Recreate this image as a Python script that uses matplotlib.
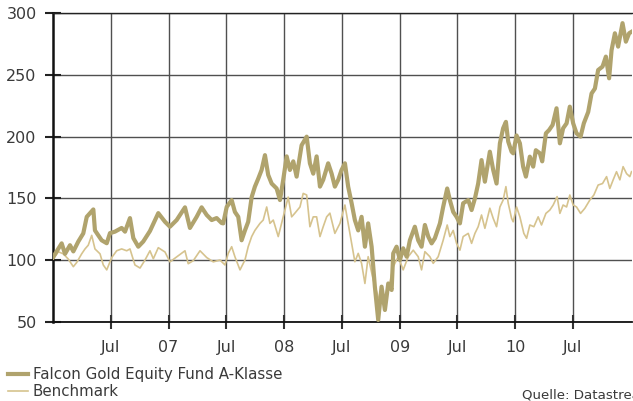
import matplotlib
matplotlib.use("Agg")
import matplotlib.pyplot as plt

plt.rcParams['font.family'] = ['Liberation Sans Narrow', 'DejaVu Sans Condensed', 'DejaVu Sans']

# ---- data (time in decimal years) ----
fund_t = [2006.003, 2006.075, 2006.104, 2006.147, 2006.176, 2006.219, 2006.262, 2006.292, 2006.349, 2006.363,
          2006.392, 2006.421, 2006.465, 2006.493, 2006.536, 2006.594, 2006.623, 2006.666, 2006.695, 2006.738,
          2006.781, 2006.839, 2006.911, 2006.969, 2007.012, 2007.070, 2007.142, 2007.185, 2007.243, 2007.286,
          2007.330, 2007.373, 2007.416, 2007.459, 2007.473, 2007.503, 2007.546, 2007.574, 2007.603, 2007.632,
          2007.661, 2007.689, 2007.719, 2007.747, 2007.776, 2007.805, 2007.834, 2007.862, 2007.892, 2007.935,
          2007.964, 2007.992, 2008.022, 2008.050, 2008.079, 2008.108, 2008.151, 2008.195, 2008.223, 2008.252,
          2008.281, 2008.310, 2008.338, 2008.381, 2008.411, 2008.439, 2008.468, 2008.497, 2008.526, 2008.554,
          2008.584, 2008.612, 2008.641, 2008.670, 2008.699, 2008.727, 2008.757, 2008.785, 2008.814, 2008.843,
          2008.872, 2008.901, 2008.930, 2008.944, 2008.973, 2009.002, 2009.030, 2009.060, 2009.088, 2009.131,
          2009.160, 2009.189, 2009.218, 2009.247, 2009.276, 2009.304, 2009.348, 2009.376, 2009.411, 2009.434,
          2009.463, 2009.492, 2009.521, 2009.549, 2009.593, 2009.622, 2009.651, 2009.679, 2009.708, 2009.737,
          2009.780, 2009.809, 2009.838, 2009.867, 2009.895, 2009.919, 2009.939, 2009.968, 2009.982, 2010.011,
          2010.040, 2010.068, 2010.092, 2010.126, 2010.155, 2010.178, 2010.213, 2010.233, 2010.265, 2010.293,
          2010.323, 2010.357, 2010.386, 2010.414, 2010.444, 2010.472, 2010.501, 2010.530, 2010.565, 2010.593,
          2010.631, 2010.660, 2010.689, 2010.717, 2010.755, 2010.784, 2010.812, 2010.833, 2010.862, 2010.890,
          2010.928, 2010.957, 2010.985, 2011.006]
fund_v = [102.7, 113.5, 105, 112, 107, 115, 121.6, 135, 141, 124,
          120, 116, 113.6, 121.8, 123, 126, 123, 134, 117.8, 110.8,
          115, 123.5, 138, 131, 127, 132.4, 142.7, 126, 135, 142.7,
          136.5, 132.4, 134, 130, 129.7, 143, 148.6, 139, 135, 116,
          124, 131, 151, 159.5, 166, 173, 185, 169, 162, 158,
          148.6, 165, 184, 173, 180, 167.6, 193, 200, 178.4, 170,
          184, 159.5, 165, 178.4, 170, 159.5, 165, 173, 178.4, 159.5,
          146, 132.4, 124, 135, 110.8, 129.7, 110.8, 78.4, 51.4, 78.4,
          59.5, 81, 75.7, 105.4, 110.8, 100, 109.5, 102.7, 116, 127,
          116, 110.8, 128.4, 119, 113.5, 117.6, 129.7, 143, 158, 148.6,
          139, 135, 129.7, 146, 148.6, 140.5, 150, 162, 181, 163.5,
          187.8, 173, 162, 194.6, 206.8, 212, 196, 187.8, 186.5, 201,
          194.6, 175.7, 167.6, 183.8, 175.7, 189, 186.5, 180, 202.7, 205.4,
          209.5, 223, 194.6, 206.8, 210.8, 224.3, 210.8, 202.7, 200, 210.8,
          220, 235, 239, 254, 256.8, 264.9, 247.3, 270, 283.8, 273,
          292, 277, 283.8, 285]

bench_t = [2006.003, 2006.046, 2006.089, 2006.132, 2006.176, 2006.205, 2006.248, 2006.277, 2006.305, 2006.335,
           2006.363, 2006.407, 2006.435, 2006.465, 2006.508, 2006.551, 2006.594, 2006.638, 2006.666, 2006.709,
           2006.753, 2006.796, 2006.839, 2006.868, 2006.911, 2006.969, 2007.012, 2007.070, 2007.142, 2007.170,
           2007.214, 2007.272, 2007.330, 2007.387, 2007.445, 2007.488, 2007.516, 2007.546, 2007.574, 2007.618,
           2007.661, 2007.689, 2007.719, 2007.747, 2007.791, 2007.819, 2007.849, 2007.877, 2007.906, 2007.949,
           2007.978, 2008.007, 2008.035, 2008.065, 2008.093, 2008.137, 2008.165, 2008.195, 2008.223, 2008.252,
           2008.281, 2008.310, 2008.338, 2008.368, 2008.396, 2008.439, 2008.483, 2008.526, 2008.554, 2008.584,
           2008.612, 2008.641, 2008.670, 2008.699, 2008.727, 2008.771, 2008.814, 2008.857, 2008.901, 2008.944,
           2008.987, 2009.030, 2009.074, 2009.117, 2009.160, 2009.189, 2009.218, 2009.261, 2009.290, 2009.333,
           2009.376, 2009.411, 2009.434, 2009.463, 2009.492, 2009.521, 2009.549, 2009.593, 2009.622, 2009.651,
           2009.679, 2009.708, 2009.737, 2009.780, 2009.809, 2009.838, 2009.867, 2009.895, 2009.919, 2009.939,
           2009.968, 2009.982, 2010.011, 2010.040, 2010.074, 2010.098, 2010.126, 2010.161, 2010.198, 2010.227,
           2010.265, 2010.299, 2010.328, 2010.362, 2010.386, 2010.414, 2010.444, 2010.472, 2010.501, 2010.530,
           2010.565, 2010.602, 2010.645, 2010.680, 2010.717, 2010.755, 2010.790, 2010.818, 2010.847, 2010.876,
           2010.905, 2010.933, 2010.963, 2010.991, 2011.006]
bench_v = [100.8, 106.7, 105, 100.8, 94.6, 98, 105, 109, 112, 120,
           109, 105, 96, 92, 102, 107.5, 109, 107.5, 109, 96,
           93.5, 100, 107.5, 101, 110, 106.5, 98.5, 102.5, 107.5, 97,
           99.5, 107.5, 102, 98.5, 100, 96, 105.4, 110.8, 102.7, 92,
           100, 110.8, 119, 124, 129.7, 132.4, 143, 129.7, 132.4, 119,
           129.7, 140.5, 151, 135, 138, 143, 154, 152.7, 127, 135,
           135, 119, 127, 135, 138, 121.6, 129.7, 144.6, 129.7, 113.5,
           98.6, 105.4, 97.3, 81, 102.7, 84, 70, 65, 75.7, 94.6,
           102.7, 92, 102.7, 108, 102.7, 92, 106.8, 102.7, 97.3, 102.7,
           116, 128.4, 119, 124, 113.5, 108, 119, 121.6, 113.5, 121.6,
           127, 136.5, 125.7, 142, 133.8, 127, 143, 148.6, 159.5, 146,
           133.8, 131, 143, 135, 121.6, 117.6, 128.4, 127, 135, 128.4,
           137.8, 140.5, 144.6, 151.4, 137.8, 144.6, 143, 152.7, 144.6, 143,
           137.8, 141.9, 148.6, 152.7, 160.8, 162, 167.6, 158, 165, 171.6,
           165, 175.7, 170, 167.6, 171.6]

x_ticks = [2006.5, 2007.0, 2007.5, 2008.0, 2008.5, 2009.0, 2009.5, 2010.0, 2010.5]
x_labels = ["Jul", "07", "Jul", "08", "Jul", "09", "Jul", "10", "Jul"]
y_ticks = [50, 100, 150, 200, 250, 300]
series_names = ["Falcon Gold Equity Fund A-Klasse", "Benchmark"]
source_text = "Quelle: Datastream"

# ---- figure ----
W, H = 633, 401
fig = plt.figure(figsize=(W / 100, H / 100), dpi=100)
ax = fig.add_axes([53 / W, 1 - 321.7 / H, (632 - 53) / W, (321.7 - 13.3) / H])

txt = '#3a3a3a'
fund_c = '#b0a36d'
bench_c = '#d6c38e'

ax.plot(bench_t, bench_v, color=bench_c, lw=1.2, zorder=3, label=series_names[1])
ax.plot(fund_t, fund_v, color=fund_c, lw=3.0, zorder=4, label=series_names[0],
        solid_joinstyle='round')

ax.set_xlim(2006.0, 2011.01)
ax.set_ylim(50, 300)
ax.set_xticks(x_ticks)
ax.set_xticklabels(x_labels)
ax.set_yticks(y_ticks)

ax.grid(True, color='#505050', lw=1.0, zorder=1)
ax.spines['right'].set_visible(False)
ax.spines['top'].set_color('#222222')
ax.spines['top'].set_linewidth(1.0)
ax.spines['left'].set_color('#111111')
ax.spines['left'].set_linewidth(1.8)
ax.spines['bottom'].set_color('#111111')
ax.spines['bottom'].set_linewidth(1.3)

ax.tick_params(axis='x', direction='inout', length=10, width=1.5, color='#333333',
               pad=8, labelsize=11.5, labelcolor=txt)
ax.tick_params(axis='y', direction='inout', length=11.5, width=1.5, color='#222222',
               pad=6, labelsize=11.5, labelcolor=txt)

handles, labels = ax.get_legend_handles_labels()
leg = fig.legend(handles[::-1], labels[::-1], loc='upper left',
                 bbox_to_anchor=(8 / W, 1 - 367 / H), frameon=False,
                 borderaxespad=0, borderpad=0, handlelength=1.35, handletextpad=0.3,
                 labelspacing=0.12, fontsize=10.8, labelcolor=txt)

fig.text(521.7 / W, 1 - 395 / H, source_text, ha='left', va='center', fontsize=9.6, color=txt)

fig.savefig('out.png', dpi=100)
